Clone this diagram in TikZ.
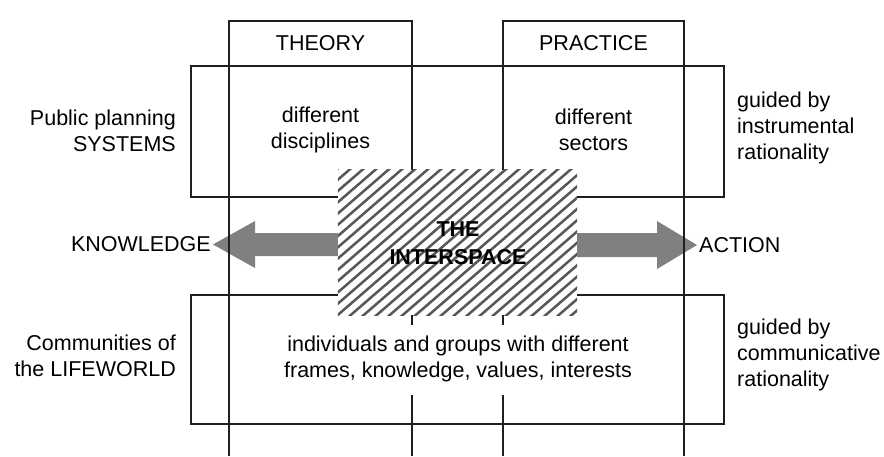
\documentclass[tikz,border=0pt]{standalone}
\usepackage{fontspec}
\setmainfont{Liberation Sans}
\begin{document}
\begin{tikzpicture}[x=1pt,y=-1pt,
  ln/.style={line width=1.6pt, draw=black!88},
  box/.style={draw=black!88, line width=1.6pt, inner sep=0pt, fill=none},
  lbl/.style={font=\fontsize{21.5}{26}\selectfont, inner sep=0pt, text=black},
  hatch/.style={line width=2.5pt, draw=black!66},
  arrowfill/.style={fill=black!50}
  ]
\useasboundingbox (0,0) rectangle (884,456);
\fill[white] (0,0) rectangle (884,456);

% main boxes
\node[box, minimum width=183pt, minimum height=45pt, lbl] (theory) at (320.5,43.5) {THEORY};
\node[box, minimum width=182pt, minimum height=45pt, lbl] (practice) at (593.5,43.5) {PRACTICE};
\node[box, minimum width=533pt, minimum height=131pt] (sys) at (457.5,131.5) {};
\node[box, minimum width=533pt, minimum height=129pt] (life) at (457.5,359.5) {};

% column lines (upper parts)
\coordinate (a1) at (412,21);
\coordinate (a2) at (412,170);
\coordinate (b1) at (503,21);
\coordinate (b2) at (503,170);
\draw[ln] (a1) -- (a2);
\draw[ln] (b1) -- (b2);

% interspace
\node[minimum width=239pt, minimum height=145pt, inner sep=0pt, fill=white] (inter) at (457.5,242.5) {};
\begin{scope}
  \clip (inter.north west) rectangle (inter.south east);
  \foreach \x in {150,163,...,600} {
    \draw[hatch] (\x,320) -- ++(180,-156);
  }
\end{scope}

% arrows
\fill[arrowfill] (inter.west |- 0,233) -- (255,233) -- (255,221) -- (213,244.5) -- (255,268) -- (255,256) -- (inter.west |- 0,256) -- cycle;
\fill[arrowfill] (inter.east |- 0,233) -- (657,233) -- (657,221) -- (697,245) -- (657,269) -- (657,257) -- (inter.east |- 0,257) -- cycle;

% outer column lines
\coordinate (l1) at (229,21);
\coordinate (l2) at (229,456);
\coordinate (r1) at (684,21);
\coordinate (r2) at (684,456);
\draw[ln] (l1) -- (l2);
\draw[ln] (r1) -- (r2);

% inner column lines (lower parts)
\coordinate (a3) at (412,315);
\coordinate (a4) at (412,325);
\coordinate (a5) at (412,395);
\coordinate (a6) at (412,456);
\coordinate (b3) at (503,315);
\coordinate (b4) at (503,325);
\coordinate (b5) at (503,395);
\coordinate (b6) at (503,456);
\draw[ln] (a3) -- (a4);
\draw[ln] (a5) -- (a6);
\draw[ln] (b3) -- (b4);
\draw[ln] (b5) -- (b6);

% texts
\node[lbl, align=center] (disc) at (320.5,130) {different\\disciplines};
\node[lbl, align=center] (sect) at (593.5,130) {different\\sectors};
\node[lbl, align=right, anchor=east] (pps) at (176,131) {Public planning\\SYSTEMS};
\node[lbl, align=left, anchor=west] (gi) at (737,128) {guided by\\instrumental\\rationality};
\node[lbl, anchor=east] (know) at (211,244.5) {KNOWLEDGE};
\node[lbl, anchor=west] (act) at (699,245) {ACTION};
\node[lbl, align=center, font=\fontsize{21.5}{28}\selectfont\bfseries] (intertxt) at (458,243) {THE\\INTERSPACE};
\node[lbl, align=right, anchor=east] (com) at (176,356) {Communities of\\the LIFEWORLD};
\node[lbl, align=center] (ind) at (458,358.5) {individuals and groups with different\\frames, knowledge, values, interests};
\node[lbl, align=left, anchor=west] (gc) at (737,355) {guided by\\communicative\\rationality};
\end{tikzpicture}
\end{document}
